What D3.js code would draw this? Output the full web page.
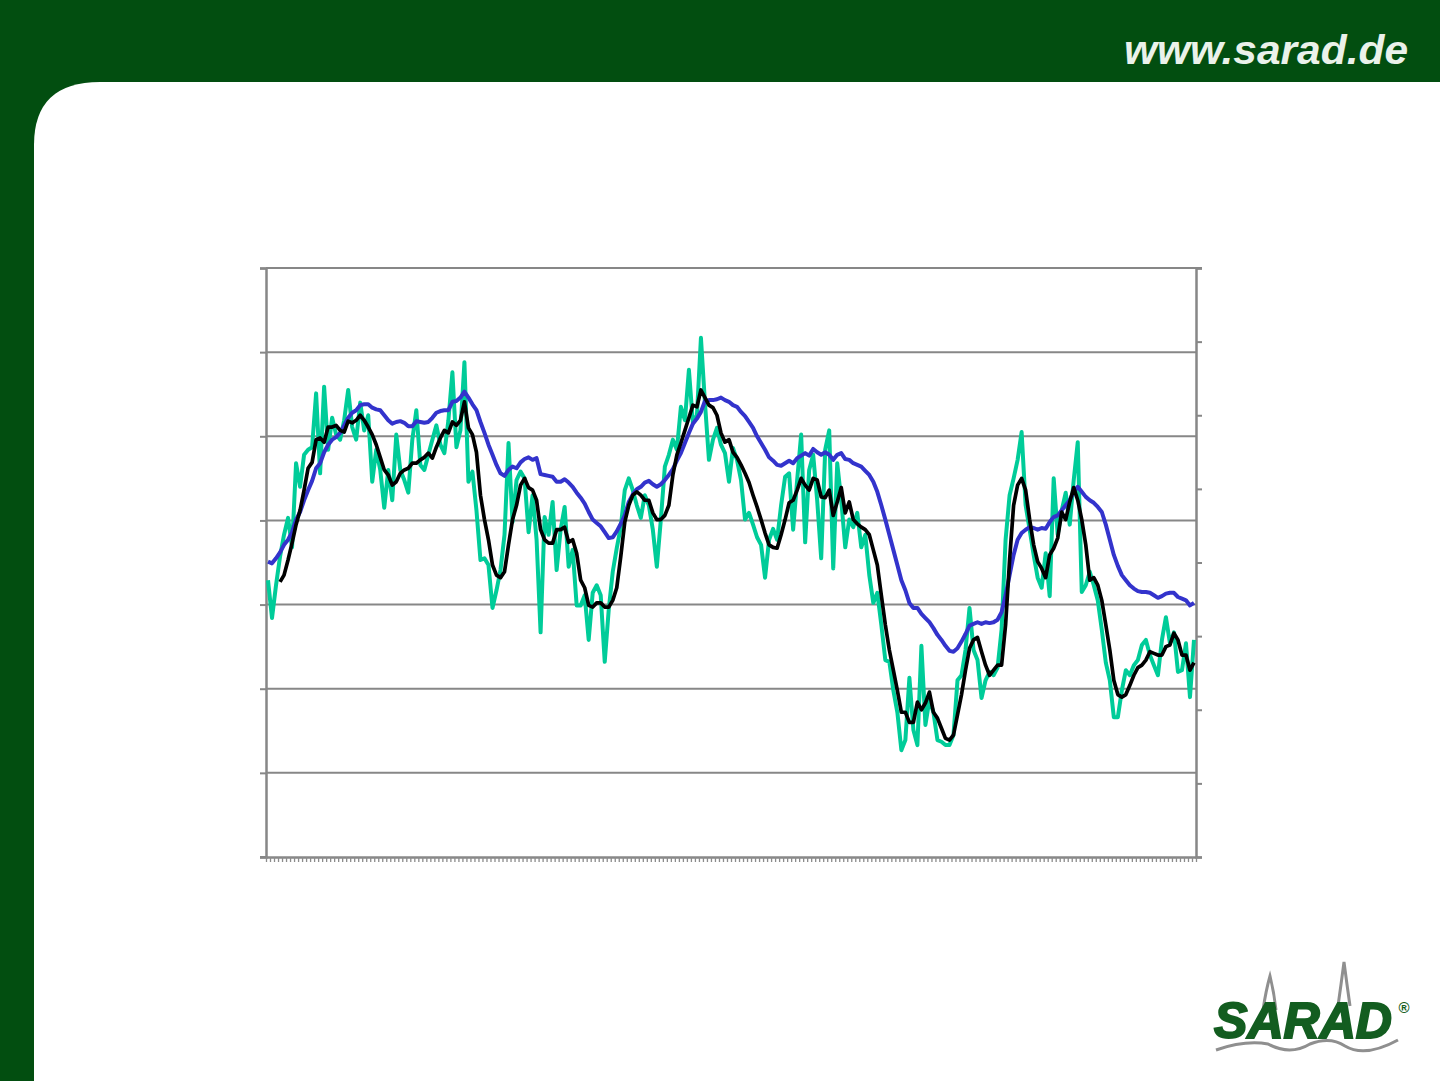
<!DOCTYPE html>
<html><head><meta charset="utf-8">
<script src="https://cdn.jsdelivr.net/npm/d3@7"></script>
<style>html,body{margin:0;padding:0;background:#034d10;overflow:hidden}</style>
</head><body><svg id="c" width="1440" height="1081"></svg>
<script>
// ---- data (unitless, left axis 0..70, gridline every 10) ----
const greenValues = [
32.9,28.4,32.3,35.7,38.3,40.3,36.8,46.8,44.0,47.8,48.4,48.7,55.1,45.6,55.9,48.4,52.2,50.2,49.6,51.9,
55.5,51.1,49.6,54.0,50.7,52.5,44.6,48.4,46.0,41.5,46.0,42.4,50.2,46.0,44.8,43.3,49.6,53.1,46.6,46.0,
47.8,49.6,51.3,49.0,48.0,51.9,57.6,48.7,50.7,58.8,44.6,45.8,41.2,35.3,35.5,34.7,29.6,31.7,34.1,38.3,
49.2,39.8,44.8,45.8,45.0,38.6,43.0,37.7,26.7,40.4,38.3,42.2,34.1,38.9,41.6,34.5,36.5,29.9,29.9,31.1,
25.8,31.4,32.3,31.1,23.2,29.4,33.9,36.7,39.2,43.6,45.0,43.6,41.8,40.3,43.0,41.8,38.9,34.5,40.1,46.4,
47.8,49.6,48.4,53.5,51.9,57.9,51.6,52.5,61.7,54.0,47.2,49.6,51.0,49.0,48.0,44.6,48.6,47.2,44.8,40.1,
40.9,39.5,38.0,37.1,33.2,37.7,39.0,37.7,41.8,45.2,45.6,38.9,44.8,50.2,37.4,46.0,47.8,42.4,35.5,48.4,
50.7,34.3,46.8,42.4,36.8,40.1,39.2,40.9,36.8,38.3,33.5,30.2,31.4,27.6,23.4,23.2,19.8,17.2,12.7,13.9,
21.3,15.1,13.3,25.1,15.7,18.7,17.2,13.9,13.7,13.3,13.3,14.5,21.0,21.6,24.6,29.6,24.6,23.4,18.9,21.0,
22.0,21.6,22.5,27.0,37.7,43.0,45.0,47.2,50.5,41.8,38.9,35.9,33.2,32.0,36.1,31.0,45.0,38.3,41.2,43.3,
39.5,44.8,49.3,31.5,32.3,33.9,32.3,30.5,27.0,23.1,21.0,16.6,16.6,19.8,22.2,21.6,22.8,23.4,25.2,25.8,
24.0,22.8,21.6,25.8,28.5,25.4,26.7,22.0,22.2,25.4,19.0,25.8
];
const blackValues = [
null,null,null,32.7,33.5,35.3,37.3,39.5,41.2,43.6,46.2,46.9,49.6,49.8,49.3,51.1,51.1,51.3,50.7,50.5,
51.8,51.6,51.9,52.5,51.9,51.1,50.2,49.0,47.5,46.0,45.4,44.2,44.6,45.6,46.0,46.2,46.8,46.8,47.2,47.5,
48.0,47.4,48.7,49.8,50.7,50.4,51.7,51.3,51.9,54.1,51.0,50.2,48.1,43.0,40.1,37.7,34.7,33.5,33.2,33.9,
37.1,40.1,41.8,44.2,45.0,43.9,43.6,42.4,38.9,37.7,37.3,37.3,38.9,38.9,39.2,37.4,37.7,36.1,32.9,32.0,
29.9,29.7,30.2,30.2,29.7,29.7,30.5,32.0,35.7,39.8,41.8,43.0,43.4,43.0,42.4,42.4,40.9,40.1,40.1,40.6,
41.8,45.4,47.8,49.2,50.7,52.2,53.7,53.5,55.5,54.6,53.7,53.4,52.5,50.4,49.3,49.6,48.1,47.5,46.6,45.6,
44.5,43.0,41.6,40.1,38.5,37.1,36.8,36.7,38.3,40.1,42.1,42.4,43.6,45.0,44.2,43.6,45.0,44.8,42.8,42.7,
43.6,40.6,42.2,43.9,40.9,42.2,40.1,39.6,39.2,38.9,38.3,36.5,34.7,31.1,27.6,24.6,22.2,19.8,17.2,17.2,
16.0,16.0,18.4,17.5,18.3,19.6,17.2,16.5,15.3,14.1,13.9,14.5,16.9,19.3,22.2,24.8,25.8,26.1,24.4,22.8,
21.6,22.2,22.8,22.8,27.6,35.3,41.8,44.2,45.0,43.6,40.1,37.1,35.1,34.3,33.2,35.9,36.7,37.9,41.0,40.1,
42.2,43.9,42.4,40.1,37.1,32.9,33.2,32.3,30.5,27.6,24.6,21.0,19.3,19.0,19.3,20.4,21.6,22.5,22.8,23.4,
24.4,24.2,24.0,24.0,25.0,25.2,26.6,25.8,24.0,24.0,22.2,23.1
];
const blueValues = [
35.1,34.9,35.5,36.2,37.1,37.7,38.6,40.1,41.0,42.4,43.6,44.7,46.2,46.8,48.1,49.0,49.6,49.9,50.4,51.3,
52.2,52.8,53.1,53.7,53.8,53.8,53.4,53.2,53.1,52.5,51.9,51.5,51.7,51.8,51.6,51.2,51.2,51.8,51.7,51.6,
51.7,52.2,52.8,53.0,53.1,53.1,54.1,54.2,54.6,55.3,54.6,53.8,53.1,51.7,50.4,49.0,47.8,46.6,45.6,45.3,
46.0,46.4,46.2,46.9,47.3,47.5,47.2,47.4,45.5,45.4,45.3,45.2,44.6,44.6,44.9,44.5,44.0,43.3,42.7,42.0,
41.0,40.1,39.7,39.3,38.6,37.9,38.0,38.7,39.6,40.6,42.2,43.1,43.7,44.0,44.5,44.7,44.3,44.0,44.3,44.8,
45.4,46.1,47.1,48.0,49.2,50.4,51.5,52.1,52.9,54.2,54.3,54.3,54.4,54.6,54.3,54.1,53.7,53.5,52.9,52.4,
51.7,51.0,50.0,49.2,48.4,47.5,47.1,46.6,46.5,46.8,47.1,46.8,47.4,47.7,48.0,47.7,48.5,48.1,47.8,48.1,
47.8,47.2,47.8,48.0,47.3,47.2,46.8,46.6,46.4,45.9,45.4,44.6,43.4,41.8,40.1,38.3,36.5,34.7,32.9,31.7,
30.2,29.6,29.6,28.9,28.4,27.9,27.2,26.4,25.8,25.1,24.5,24.4,24.8,25.6,26.5,27.5,27.7,27.9,27.7,27.9,
27.8,27.9,28.2,29.1,31.1,33.5,35.9,37.7,38.5,38.9,39.2,39.1,38.9,39.1,39.0,39.8,40.4,40.6,41.2,41.8,
42.4,43.4,44.0,43.4,42.8,42.4,42.1,41.6,41.0,39.5,37.7,35.9,34.6,33.5,32.9,32.3,31.9,31.6,31.5,31.5,
31.4,31.1,30.8,31.0,31.3,31.4,31.4,30.9,30.7,30.5,29.9,30.2
];
const categories = greenValues.map((d, i) => i + 1);   // unlabeled periods
const leftTicks = [0, 10, 20, 30, 40, 50, 60, 70];
const rightTicks = [0, 10, 20, 30, 40, 50, 60, 70, 80];

// ---- page frame ----
const svg = d3.select('#c');
svg.append('rect').attr('width', 1440).attr('height', 1081).attr('fill', '#024e10');
svg.append('path')
  .attr('d', 'M34,1081 L34,145 Q34,82 100,82 L1440,82 L1440,1081 Z')
  .attr('fill', '#ffffff');
svg.append('text').attr('x', 1408).attr('y', 64).attr('text-anchor', 'end')
  .attr('font-family', 'Liberation Sans, Arial, sans-serif').attr('font-weight', 'bold')
  .attr('font-style', 'italic').attr('font-size', 40).attr('fill', '#eaf2ea')
  .attr('textLength', 284).attr('lengthAdjust', 'spacingAndGlyphs')
  .text('www.sarad.de');

// ---- chart ----
const L = 266, R = 1196, T = 268, B = 857;
const x = d3.scaleBand().domain(categories).range([L, R]);
const xEdge = d3.scaleLinear().domain([0, categories.length]).range([L, R]);
const y = d3.scaleLinear().domain([0, 70]).range([B, T]);
const y2 = d3.scaleLinear().domain([0, 80]).range([B, T]);
const gray = '#878787';

const gGrid = svg.append('g').attr('transform', `translate(${L},0)`)
  .call(d3.axisLeft(y).tickValues(leftTicks).tickSize(6).tickFormat(''));
gGrid.selectAll('.tick line').attr('stroke', gray).attr('stroke-width', 2);
gGrid.select('.domain').attr('stroke', gray).attr('stroke-width', 2.5);
svg.append('g').selectAll('line').data(leftTicks.filter(d => d > 0)).join('line')
  .attr('x1', L).attr('x2', R).attr('y1', d => y(d)).attr('y2', d => y(d))
  .attr('stroke', gray).attr('stroke-width', 2);
svg.append('line').attr('x1', R).attr('x2', R + 6).attr('y1', T).attr('y2', T)
  .attr('stroke', gray).attr('stroke-width', 2);

const gR = svg.append('g').attr('transform', `translate(${R},0)`)
  .call(d3.axisRight(y2).tickValues(rightTicks).tickSize(6).tickFormat(''));
gR.selectAll('.tick line').attr('stroke', gray).attr('stroke-width', 2);
gR.select('.domain').attr('stroke', gray).attr('stroke-width', 2.5);

const gB = svg.append('g').attr('transform', `translate(0,${B})`)
  .call(d3.axisBottom(xEdge).tickValues(d3.range(categories.length + 1)).tickSize(5).tickSizeOuter(0).tickFormat(''));
gB.selectAll('.tick line').attr('stroke', '#8c8c8c').attr('stroke-width', 1.3);
gB.select('.domain').attr('stroke', gray).attr('stroke-width', 2.5);
svg.append('line').attr('x1', L - 6).attr('x2', L).attr('y1', B).attr('y2', B)
  .attr('stroke', gray).attr('stroke-width', 2);

const cx = (d, i) => x(categories[i]) + x.bandwidth() / 2;
const mk = () => d3.line().defined(d => d != null).x(cx).y(d => y(d));

svg.append('path').datum(greenValues).attr('d', mk())
  .attr('fill', 'none').attr('stroke', '#00cc99').attr('stroke-width', 4).attr('stroke-linejoin', 'round');
svg.append('path').datum(blueValues).attr('d', mk())
  .attr('fill', 'none').attr('stroke', '#3333cc').attr('stroke-width', 4).attr('stroke-linejoin', 'round');
svg.append('path').datum(blackValues).attr('d', mk())
  .attr('fill', 'none').attr('stroke', '#000000').attr('stroke-width', 3.7).attr('stroke-linejoin', 'round');

// ---- logo ----
const lg = svg.append('g');
lg.append('path').attr('d', 'M1263,1010 Q1266,990 1270,976 Q1274,992 1276,1010').attr('fill', 'none')
  .attr('stroke', '#8f8f8f').attr('stroke-width', 3);
lg.append('path').attr('d', 'M1338,1006 Q1341,985 1344,962 Q1347,985 1350,1006').attr('fill', 'none')
  .attr('stroke', '#8f8f8f').attr('stroke-width', 3);
lg.append('path').attr('d', 'M1216,1050 Q1245,1040 1268,1044 Q1290,1056 1310,1044 Q1330,1036 1345,1046 Q1365,1058 1398,1040')
  .attr('fill', 'none').attr('stroke', '#8f8f8f').attr('stroke-width', 3);
lg.append('text').attr('x', 1214).attr('y', 1038)
  .attr('font-family', 'Liberation Sans, Arial, sans-serif').attr('font-weight', 'bold')
  .attr('font-style', 'italic').attr('font-size', 50).attr('fill', '#135d20')
  .attr('stroke', '#135d20').attr('stroke-width', 2)
  .attr('textLength', 178).attr('lengthAdjust', 'spacingAndGlyphs').text('SARAD');
lg.append('text').attr('x', 1404).attr('y', 1013).attr('text-anchor', 'middle')
  .attr('font-family', 'Liberation Sans, Arial, sans-serif').attr('font-weight', 'bold')
  .attr('font-size', 15).attr('fill', '#135d20').text('®');
</script></body></html>
